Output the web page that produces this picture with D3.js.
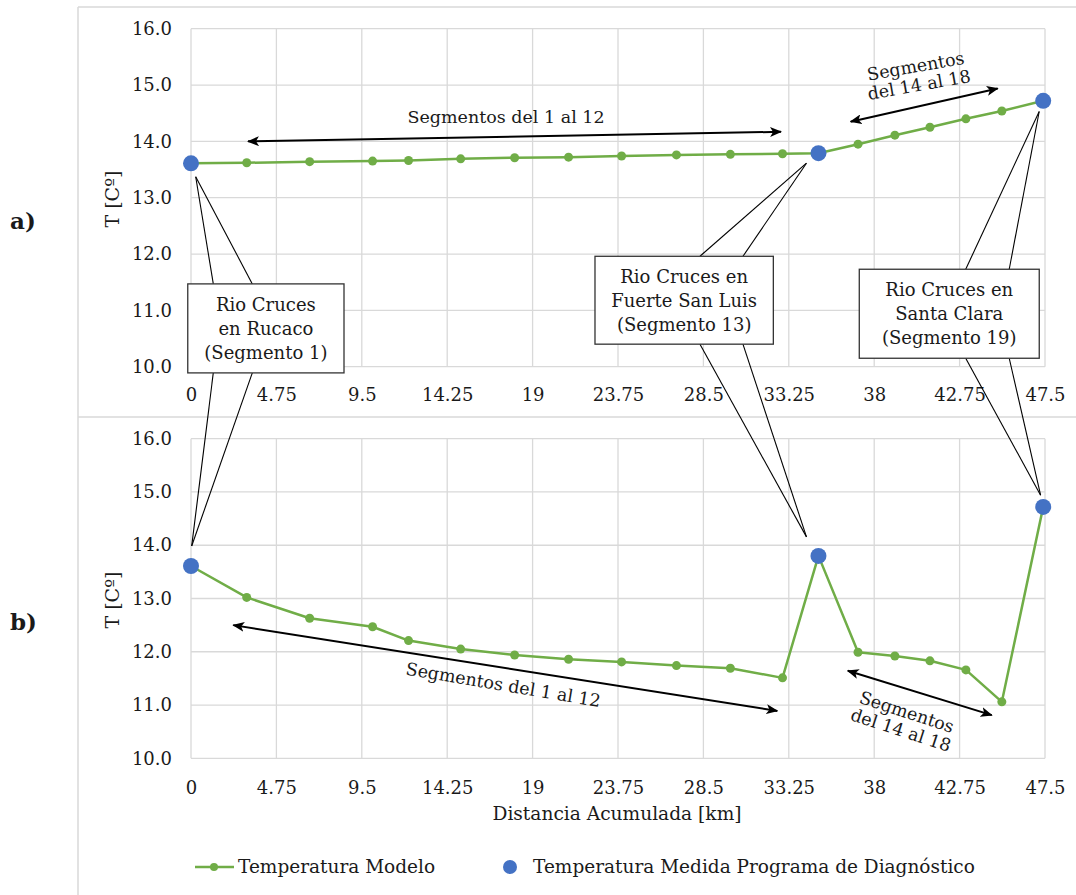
<!DOCTYPE html>
<html>
<head>
<meta charset="utf-8">
<script src="https://cdn.jsdelivr.net/npm/d3@7"></script>
<style>
  html, body { margin: 0; padding: 0; background: #fff; }
  svg { display: block; }
  text { font-family: "DejaVu Serif", Georgia, serif; fill: #1a1a1a; }
</style>
</head>
<body>
<svg id="chart" width="1076" height="895"></svg>
<script>
// ---------------- DATA ----------------
const distanciaKm = [0, 3.1, 6.6, 10.1, 12.1, 15.0, 18.0, 21.0, 23.95, 27.0, 30.0, 32.9, 34.9, 37.1, 39.15, 41.1, 43.1, 45.1, 47.4];
const tempModeloA = [13.61, 13.62, 13.64, 13.65, 13.66, 13.69, 13.71, 13.72, 13.74, 13.76, 13.77, 13.78, 13.79, 13.95, 14.11, 14.25, 14.40, 14.54, 14.72];
const tempModeloB = [13.61, 13.02, 12.63, 12.47, 12.21, 12.05, 11.94, 11.86, 11.81, 11.74, 11.69, 11.51, 13.80, 11.99, 11.92, 11.83, 11.66, 11.06, 14.72];
const medidaKm = [0, 34.9, 47.4];
const tempMedidaA = [13.61, 13.79, 14.72];
const tempMedidaB = [13.61, 13.80, 14.72];
const xTickValues = [0, 4.75, 9.5, 14.25, 19, 23.75, 28.5, 33.25, 38, 42.75, 47.5];
const xTickLabels = ["0", "4.75", "9.5", "14.25", "19", "23.75", "28.5", "33.25", "38", "42.75", "47.5"];
const yTickValues = [10, 11, 12, 13, 14, 15, 16];
const yTickLabels = ["10.0", "11.0", "12.0", "13.0", "14.0", "15.0", "16.0"];
const legendLabels = ["Temperatura Modelo", "Temperatura Medida Programa de Diagnóstico"];
const yTitle = "T [Cº]";
const xTitle = "Distancia Acumulada [km]";

// ---------------- LAYOUT ----------------
const svg = d3.select("#chart");
const W = 1076, H = 895;
const GREEN = "#70AD47", BLUE = "#4472C4", GRID = "#d9d9d9";
const plotLeft = 191, plotRight = 1045;

const x = d3.scaleLinear().domain([0, 47.5]).range([plotLeft, plotRight]);
const yA = d3.scaleLinear().domain([10, 16]).range([366.7, 28.7]);
const yB = d3.scaleLinear().domain([10, 16]).range([758.3, 438.7]);

// outer chart frames
svg.append("rect").attr("x", 0).attr("y", 0).attr("width", W).attr("height", H).attr("fill", "#fff");
const frame = svg.append("g").attr("stroke", GRID).attr("stroke-width", 1.5).attr("fill", "none");
frame.append("line").attr("x1", 78).attr("x2", 78).attr("y1", 7).attr("y2", H);
frame.append("line").attr("x1", 78).attr("x2", W).attr("y1", 7).attr("y2", 7);
frame.append("line").attr("x1", 78).attr("x2", W).attr("y1", 417).attr("y2", 417);

// arrow markers
const defs = svg.append("defs");
["arrowEnd", "arrowStart"].forEach((id, i) => {
  defs.append("marker")
    .attr("id", id)
    .attr("viewBox", "0 0 12 10")
    .attr("refX", i === 0 ? 11 : 1).attr("refY", 5)
    .attr("markerWidth", 12).attr("markerHeight", 10)
    .attr("markerUnits", "userSpaceOnUse")
    .attr("orient", "auto")
    .append("path")
    .attr("d", i === 0 ? "M0,0 L12,5 L0,10 L3,5 Z" : "M12,0 L0,5 L12,10 L9,5 Z")
    .attr("fill", "#000");
});

function drawPanel(y, tempModelo, tempMedida, tickLabelY, label, labelY, titleY, showXTitle) {
  const g = svg.append("g");
  // gridlines
  g.append("g").selectAll("line.h").data(yTickValues).join("line")
    .attr("x1", plotLeft).attr("x2", plotRight)
    .attr("y1", d => y(d)).attr("y2", d => y(d))
    .attr("stroke", GRID).attr("stroke-width", 1.3);
  g.append("g").selectAll("line.v").data(xTickValues).join("line")
    .attr("y1", y(10)).attr("y2", y(16))
    .attr("x1", d => x(d)).attr("x2", d => x(d))
    .attr("stroke", GRID).attr("stroke-width", 1.3);

  // y axis
  const yAxis = d3.axisLeft(y).tickValues(yTickValues).tickFormat((d, i) => yTickLabels[i]).tickSize(0).tickPadding(19);
  const ya = g.append("g").attr("transform", `translate(${plotLeft},0)`).call(yAxis);
  ya.select(".domain").remove();
  ya.selectAll("text").attr("font-size", 18).attr("font-family", "DejaVu Serif").attr("fill", "#1a1a1a");

  // x axis
  const xAxis = d3.axisBottom(x).tickValues(xTickValues).tickFormat((d, i) => xTickLabels[i]).tickSize(0).tickPadding(0);
  const xa = g.append("g").attr("transform", `translate(0,${tickLabelY})`).call(xAxis);
  xa.select(".domain").remove();
  xa.selectAll("text").attr("font-size", 18).attr("font-family", "DejaVu Serif").attr("fill", "#1a1a1a").attr("dy", "0.35em");

  // y title
  g.append("text").attr("transform", `translate(112,${titleY}) rotate(-90)`)
    .attr("text-anchor", "middle").attr("dy", "0.35em").attr("font-size", 19).text(yTitle);

  // panel label
  g.append("text").attr("x", 10).attr("y", labelY).attr("dy", "0.35em")
    .attr("font-size", 23).attr("font-weight", "bold").text(label);

  // model line
  const line = d3.line().x((d, i) => x(distanciaKm[i])).y(d => y(d));
  g.append("path").datum(tempModelo).attr("d", line)
    .attr("fill", "none").attr("stroke", GREEN).attr("stroke-width", 2.5).attr("stroke-linejoin", "round");
  g.append("g").selectAll("circle").data(tempModelo).join("circle")
    .attr("cx", (d, i) => x(distanciaKm[i])).attr("cy", d => y(d)).attr("r", 4.5).attr("fill", GREEN);
  // measured
  g.append("g").selectAll("circle").data(tempMedida).join("circle")
    .attr("cx", (d, i) => x(medidaKm[i])).attr("cy", d => y(d)).attr("r", 8).attr("fill", BLUE);

  if (showXTitle) {
    g.append("text").attr("x", (plotLeft + plotRight) / 2 - 1).attr("y", 813).attr("dy", "0.35em")
      .attr("text-anchor", "middle").attr("font-size", 18.6).text(xTitle);
  }
  return g;
}

drawPanel(yA, tempModeloA, tempMedidaA, 395, "a)", 221, 199, false);
drawPanel(yB, tempModeloB, tempMedidaB, 788, "b)", 622, 600, true);

// ---------------- ANNOTATIONS ----------------
const ann = svg.append("g");

// double-headed arrows with labels  (coordinates in km / °C of their panel)
const arrows = [
  { y: yA, from: [3.17, 14.00], to: [32.82, 14.17], lines: ["Segmentos del 1 al 12"], at: [17.52, 14.44], rot: 0 },
  { y: yA, from: [36.69, 14.35], to: [44.87, 14.94], lines: ["Segmentos", "del 14 al 18"], at: [40.4, 15.17], rot: -10 },
  { y: yB, from: [2.35, 12.50], to: [32.61, 10.89], lines: ["Segmentos del 1 al 12"], at: [17.37, 11.38], rot: 9.5 },
  { y: yB, from: [36.53, 11.645], to: [44.54, 10.81], lines: ["Segmentos", "del 14 al 18"], at: [39.65, 10.70], rot: 18 }
];
arrows.forEach(a => {
  ann.append("line")
    .attr("x1", x(a.from[0])).attr("y1", a.y(a.from[1]))
    .attr("x2", x(a.to[0])).attr("y2", a.y(a.to[1]))
    .attr("stroke", "#000").attr("stroke-width", 2)
    .attr("marker-start", "url(#arrowStart)").attr("marker-end", "url(#arrowEnd)");
  const cx = x(a.at[0]), cy = a.y(a.at[1]);
  const t = ann.append("text").attr("transform", `translate(${cx},${cy}) rotate(${a.rot})`)
    .attr("text-anchor", "middle").attr("font-size", 17.5);
  const n = a.lines.length;
  a.lines.forEach((s, i) => {
    t.append("tspan").attr("x", 0).attr("y", (i - (n - 1) / 2) * 19).attr("dy", "0.35em").text(s);
  });
});

// callout boxes (box extents in km / °C of panel a); each box points to one measured site
const boxes = [
  { x0: -0.18, x1: 8.51, t0: 11.47, t1: 9.89, attach: [1.24, 3.41], site: 0,
    offA: [4.7, 13.4], offB: [0.7, -20], lines: ["Rio Cruces", "en Rucaco", "(Segmento 1)"] },
  { x0: 22.47, x1: 32.39, t0: 11.96, t1: 10.40, attach: [28.31, 30.70], site: 1,
    offA: [-12, 10], offB: [-12, -19], lines: ["Rio Cruces en", "Fuerte San Luis", "(Segmento 13)"] },
  { x0: 37.17, x1: 47.18, t0: 11.73, t1: 10.15, attach: [43.09, 45.51], site: 2,
    offA: [-4, 10.7], offB: [-2.6, -11.7], lines: ["Rio Cruces en", "Santa Clara", "(Segmento 19)"] }
];
boxes.forEach(b => {
  const bx0 = x(b.x0), bx1 = x(b.x1), by0 = yA(b.t0), by1 = yA(b.t1);
  const px = x(medidaKm[b.site]);
  const apexA = [px + b.offA[0], yA(tempMedidaA[b.site]) + b.offA[1]];
  const apexB = [px + b.offB[0], yB(tempMedidaB[b.site]) + b.offB[1]];
  b.attach.forEach(ax => {
    ann.append("line").attr("x1", x(ax)).attr("y1", by0).attr("x2", apexA[0]).attr("y2", apexA[1])
      .attr("stroke", "#000").attr("stroke-width", 1.1);
    ann.append("line").attr("x1", x(ax)).attr("y1", by1).attr("x2", apexB[0]).attr("y2", apexB[1])
      .attr("stroke", "#000").attr("stroke-width", 1.1);
  });
  ann.append("rect").attr("x", bx0).attr("y", by0).attr("width", bx1 - bx0).attr("height", by1 - by0)
    .attr("fill", "#fff").attr("stroke", "#333").attr("stroke-width", 1.3);
  const cx = (bx0 + bx1) / 2, cy = (by0 + by1) / 2;
  b.lines.forEach((s, i) => {
    ann.append("text").attr("x", cx).attr("y", cy + (i - 1) * 24).attr("dy", "0.35em")
      .attr("text-anchor", "middle").attr("font-size", 18).text(s);
  });
});

// ---------------- LEGEND ----------------
const lg = svg.append("g").attr("transform", "translate(0,867)");
lg.append("line").attr("x1", 195).attr("x2", 234).attr("y1", 0).attr("y2", 0).attr("stroke", GREEN).attr("stroke-width", 2.5);
lg.append("circle").attr("cx", 214).attr("cy", 0).attr("r", 4).attr("fill", GREEN);
lg.append("text").attr("x", 238).attr("y", 0).attr("dy", "0.35em").attr("font-size", 18.5).text(legendLabels[0]);
lg.append("circle").attr("cx", 510).attr("cy", 0).attr("r", 7).attr("fill", BLUE);
lg.append("text").attr("x", 533).attr("y", 0).attr("dy", "0.35em").attr("font-size", 18.5).text(legendLabels[1]);
</script>
</body>
</html>
